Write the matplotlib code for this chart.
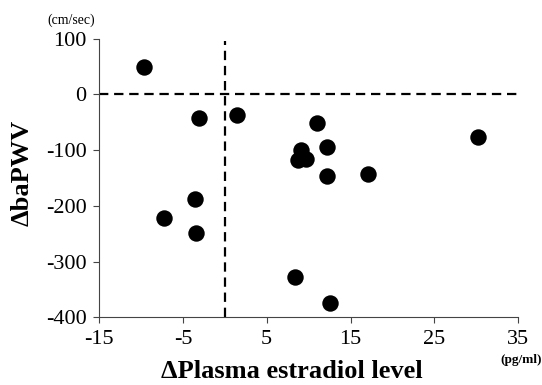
import matplotlib
matplotlib.use('Agg')
import matplotlib.pyplot as plt

# change in plasma estradiol (pg/ml) vs change in baPWV (cm/sec)
estradiol = [-9.6, -3.05, 1.4, 11.0, 9.1, 8.7, 9.7, 12.2, 12.2, 17.1, 30.2,
             -3.5, -7.2, -3.4, 8.4, 12.6]
bapwv = [50, -43, -37, -51, -100, -118, -115, -94, -146, -142, -76,
         -187, -222, -248, -328, -374]

xticks = [-15, -5, 5, 15, 25, 35]
yticks = [100, 0, -100, -200, -300, -400]

plt.rcParams['font.family'] = ['Liberation Serif', 'DejaVu Serif']
plt.rcParams['axes.unicode_minus'] = False

fig = plt.figure(figsize=(5.42, 3.85), dpi=100)
ax = fig.add_axes([0.1827, 0.1758, 0.7736, 0.7237])

ax.scatter(estradiol, bapwv, s=140, color='black', zorder=3, linewidths=0)

# reference lines at zero
ax.plot([-15, 35], [0, 0], color='black', lw=1.6, dashes=(4.2, 2.6))
ax.plot([0, 0], [-400, 95], color='black', lw=1.6, dashes=(4.2, 2.6))

ax.set_xlim(-15, 35)
ax.set_ylim(-400, 100)
ax.set_xticks(xticks)
ax.set_yticks(yticks)
ax.tick_params(labelsize=16, length=4, width=0.8, color='#444444', pad=5)

for s in ['top', 'right']:
    ax.spines[s].set_visible(False)
for s in ['left', 'bottom']:
    ax.spines[s].set_linewidth(0.8)
    ax.spines[s].set_color('#444444')

fig.text(0.041, 0.55, '\u0394baPWV', rotation=90, fontsize=19, fontweight='bold',
         ha='center', va='center')
fig.text(0.538, 0.035, '\u0394Plasma estradiol level', fontsize=19, fontweight='bold',
         ha='center', va='center')
fig.text(0.131, 0.948, '(cm/sec)', fontsize=10, ha='center', va='center')
fig.text(0.961, 0.065, '(pg/ml)', fontsize=9.5, fontweight='bold', ha='center', va='center')

fig.savefig('out.png', dpi=100)
